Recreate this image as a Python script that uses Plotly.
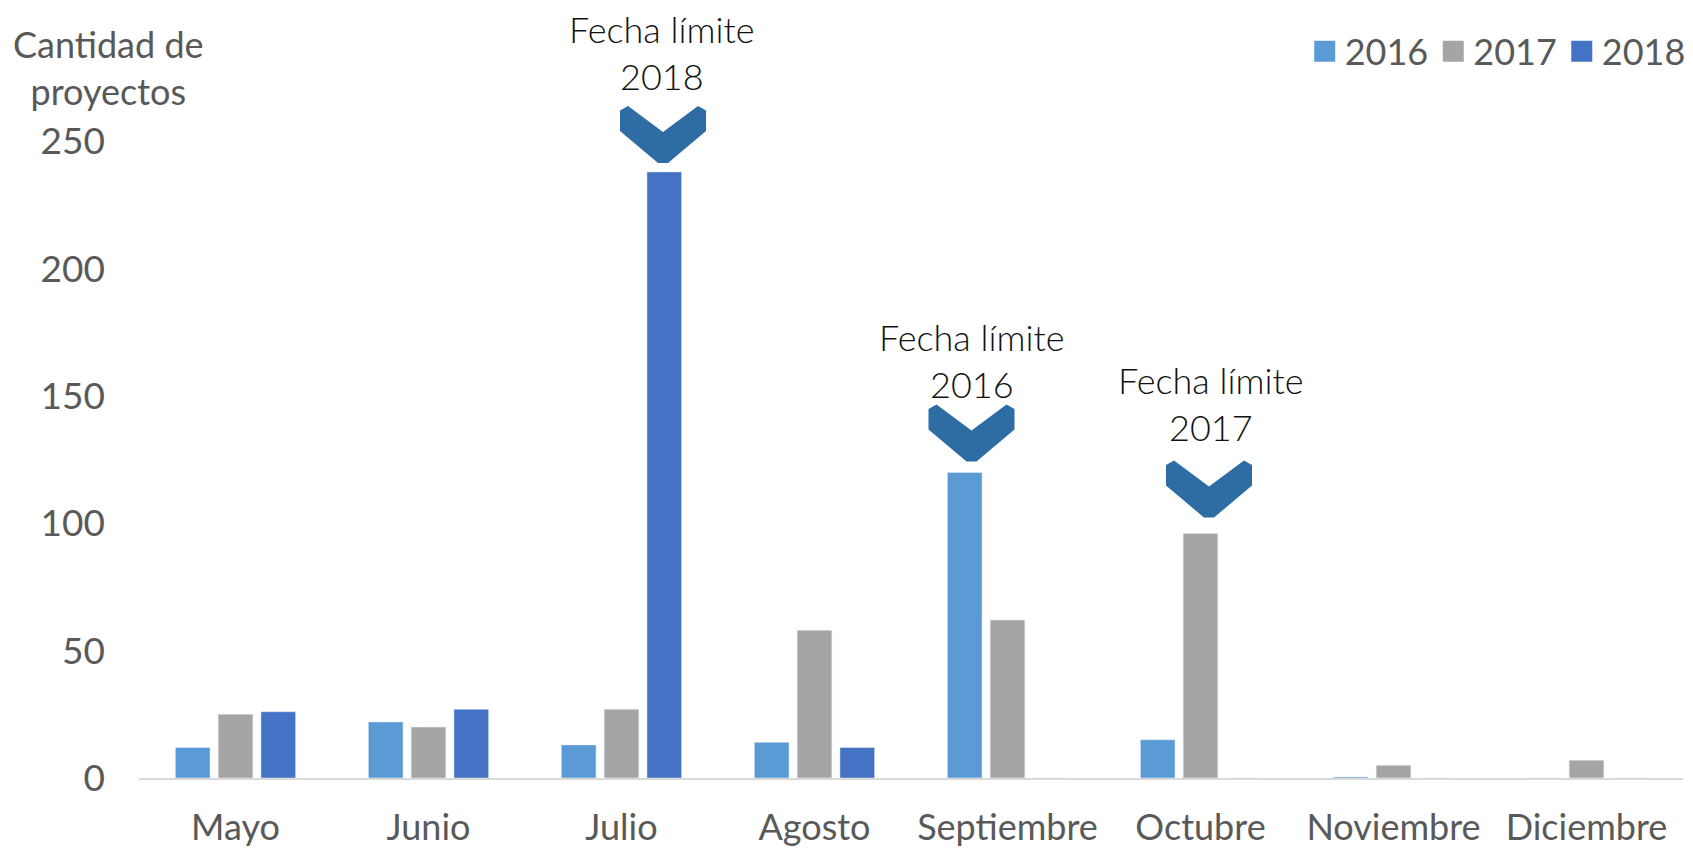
import plotly.graph_objects as go

months = ["Mayo", "Junio", "Julio", "Agosto", "Septiembre", "Octubre", "Noviembre", "Diciembre"]
years = ["2016", "2017", "2018"]
v2016 = [12, 22, 13, 14, 120, 15, 0.4, 0]
v2017 = [25, 20, 27, 58, 62, 96, 5, 7]
v2018 = [26, 27, 238, 12, 0, 0, 0, 0]
y_ticks = [0, 50, 100, 150, 200, 250]

colors = {"2016": "#5B9BD5", "2017": "#A5A5A5", "2018": "#4472C4"}
series = {"2016": v2016, "2017": v2017, "2018": v2018}

# deadline markers: (month, year series, label)
deadlines = [("Julio", "2018", "Fecha límite<br>2018"),
             ("Septiembre", "2016", "Fecha límite<br>2016"),
             ("Octubre", "2017", "Fecha límite<br>2017")]

FONT = "Lato, 'Open Sans', sans-serif"
GREY = "#595959"

fig = go.Figure()
for yr in years:
    fig.add_trace(go.Bar(x=months, y=series[yr], name=yr, marker_color=colors[yr],
                         showlegend=False))
for yr in years:
    fig.add_trace(go.Scatter(x=[None], y=[None], mode="markers", name=yr,
                             marker=dict(symbol="square", size=16, color=colors[yr],
                                         line=dict(width=5, color=colors[yr]))))

# style offsets (pixels) per deadline: chevron x shift, gap above bar, text x shift, text y shift
style = {"Julio": (41.5, 9, 40, 119),
         "Septiembre": (-36, 11, -35.5, 112),
         "Octubre": (8.5, 16, 10.5, 130)}

chev = [(-5, 0), (5, 0), (43, 32), (43, 52.5), (35, 57), (0, 31),
        (-35, 57), (-43, 52.5), (-43, 32)]

for m, yr, label in deadlines:
    val = series[yr][months.index(m)]
    dx, gap, tx, ty = style[m]
    pts = [(dx + px, gap + py) for px, py in chev]
    path = "M" + " L".join(f"{px},{py}" for px, py in pts) + " Z"
    fig.add_shape(type="path", xref="x", yref="y", xsizemode="pixel", ysizemode="pixel",
                  xanchor=m, yanchor=val, path=path, fillcolor="#2E6CA4",
                  line=dict(width=0), layer="above")
    fig.add_annotation(x=m, y=val, text=label, showarrow=False, xshift=tx, yshift=ty,
                       yanchor="middle", xanchor="center",
                       font=dict(family=FONT, size=36, color="#111111", weight=300))

PLOT_H = 849 - 13.6 - 71.0
fig.add_annotation(xref="paper", yref="paper", x=(108 - 139) / 1544, y=(778 - 67) / PLOT_H,
                   text="Cantidad de<br>proyectos", showarrow=False, xanchor="center",
                   yanchor="middle", font=dict(family=FONT, size=36, color=GREY))

fig.update_layout(
    width=1693, height=849,
    margin=dict(l=139, r=10, t=13.6, b=71.0, autoexpand=False),
    paper_bgcolor="white", plot_bgcolor="white",
    barmode="group", bargap=0.335, bargroupgap=0.19,
    font=dict(family=FONT, size=36, color=GREY),
    legend=dict(orientation="h", xref="paper", yref="paper",
                x=1.005, xanchor="right", y=(778 - 51) / PLOT_H, yanchor="middle",
                font=dict(family=FONT, size=36, color=GREY),
                bgcolor="rgba(0,0,0,0)", itemwidth=30),
    xaxis=dict(showgrid=False, showline=True, linecolor="#D9D9D9", linewidth=2,
               ticks="", tickfont=dict(family=FONT, size=36, color=GREY),
               ticklabelstandoff=17, fixedrange=True, automargin=False),
    yaxis=dict(range=[0, 300], tickvals=y_ticks, showgrid=False, zeroline=False,
               showline=False, ticks="", tickfont=dict(family=FONT, size=37, color=GREY),
               ticklabelstandoff=33, fixedrange=True, automargin=False),
)

fig.write_html("out.html")
